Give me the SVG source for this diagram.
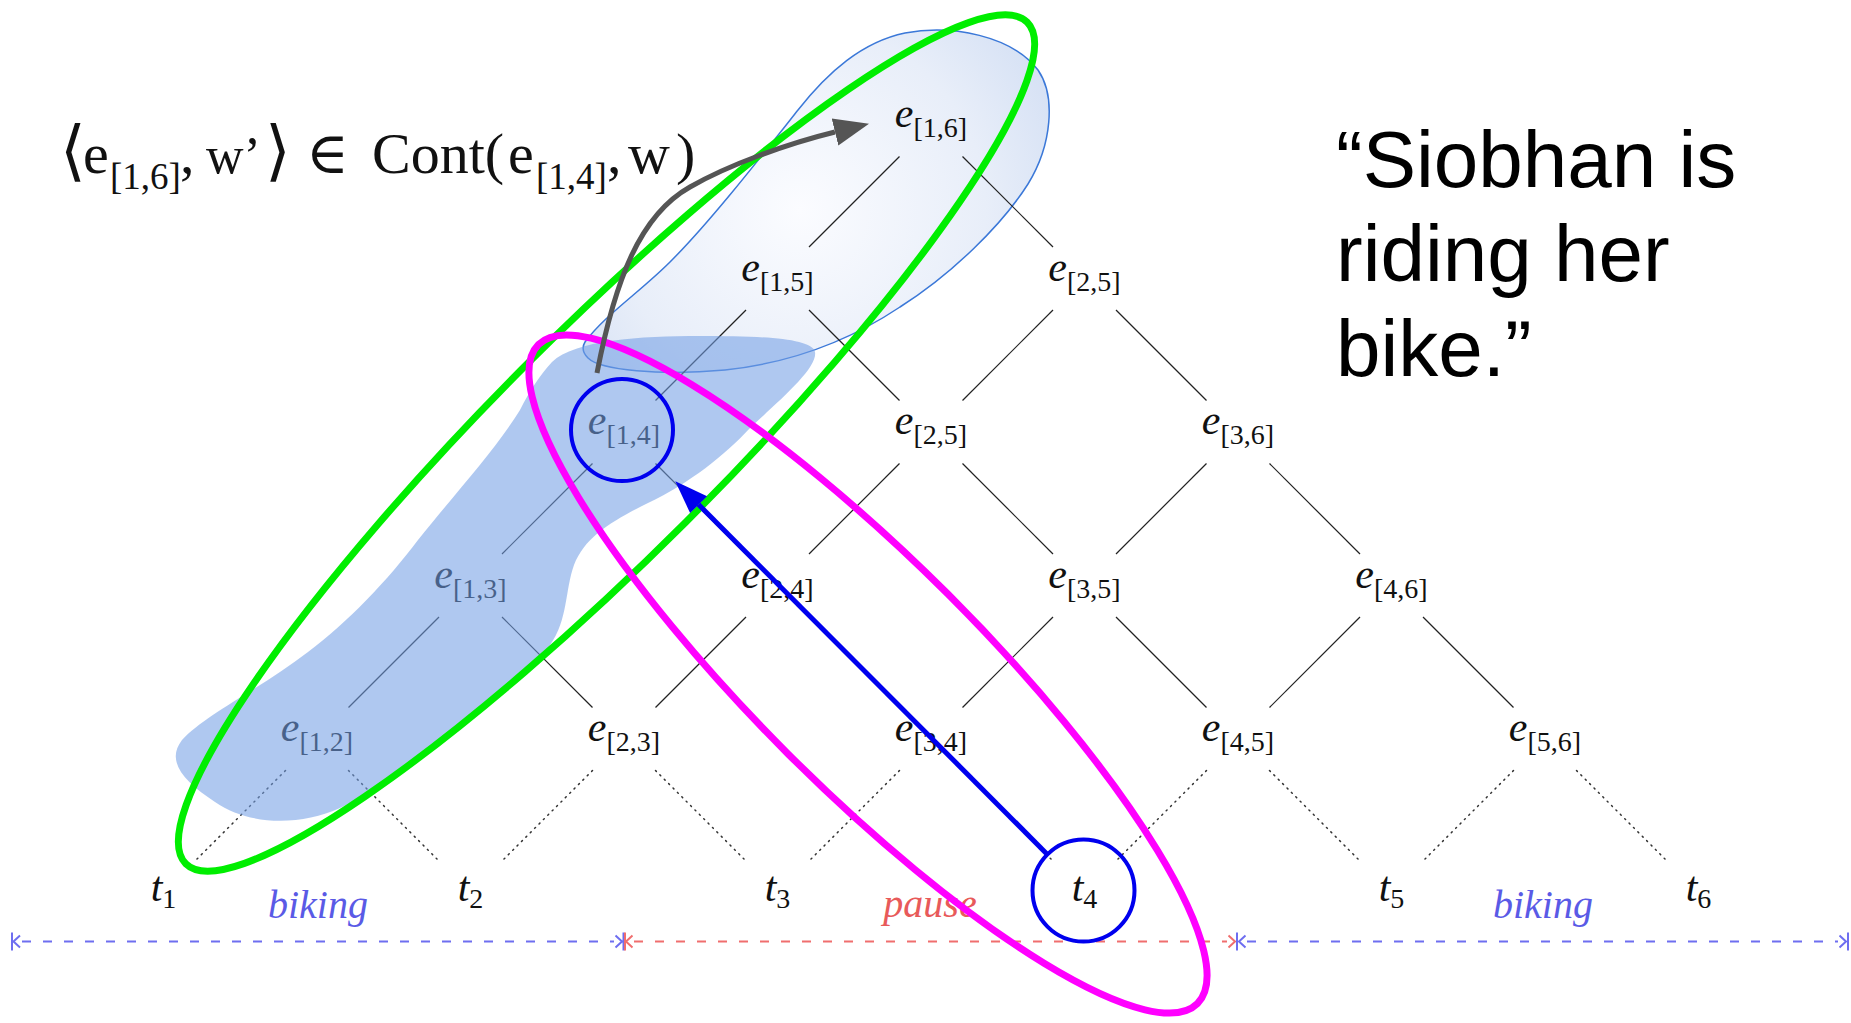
<svg xmlns="http://www.w3.org/2000/svg" width="1851" height="1023" viewBox="0 0 1851 1023">
  <defs>
    <style>
      .lbl { font-family: "Liberation Serif", "DejaVu Serif", serif; fill: #111; text-anchor: middle; }
      .lbl .v { font-style: italic; font-size: 42px; }
      .lbl .s { font-size: 28px; }
      .edge { stroke: #222; stroke-width: 1.2; fill: none; }
      .dot { stroke: #333; stroke-width: 1.5; fill: none; stroke-dasharray: 1.2 5; stroke-linecap: round; }
      .seg { font-family: "Liberation Serif", "DejaVu Serif", serif; font-style: italic; font-size: 40px; text-anchor: middle; }
      .tl { stroke-width: 2; fill: none; stroke-dasharray: 9 12; }
      .tm { stroke-width: 2; fill: none; }
      .blue { stroke: #6e6ef0; }
      .red { stroke: #f06e6e; }
      .formula { font-family: "Liberation Serif", "DejaVu Serif", serif; font-size: 58px; fill: #111; }
      .formula .s { font-size: 37px; }
      .formula .b { font-size: 66px; }
      .formula .w { font-size: 52px; }
      .quote { font-family: "Liberation Sans", Arial, sans-serif; font-size: 80px; fill: #000; }
    </style>
    <radialGradient id="lightGrad" gradientUnits="userSpaceOnUse" cx="800" cy="210" r="310">
      <stop offset="0" stop-color="#fbfcff"/>
      <stop offset="0.6" stop-color="#e8eef9"/>
      <stop offset="1" stop-color="#d0ddf3"/>
    </radialGradient>
    <marker id="arrBlue" markerUnits="userSpaceOnUse" viewBox="0 -13 34 26" refX="0" refY="0" markerWidth="34" markerHeight="26" orient="auto">
      <path d="M0,-12 L33,0 L0,12 Z" fill="#0000ee"/>
    </marker>
    <marker id="arrGray" markerUnits="userSpaceOnUse" viewBox="0 -15 36 30" refX="0" refY="0" markerWidth="36" markerHeight="30" orient="auto">
      <path d="M0,-14 L35,0 L0,14 Z" fill="#555"/>
    </marker>
  </defs>

  <rect width="1851" height="1023" fill="#fff"/>

  <!-- light blue region (continuation) -->
  <path id="lightRegion" d="M 585,342 C 605,315 640,292 670,262 C 710,222 760,158 798,110 C 828,72 862,42 905,33 C 952,24 1012,36 1038,70 C 1056,96 1052,145 1028,184 C 1002,225 952,274 900,307 C 858,335 800,362 725,370 C 660,376 600,370 588,358 C 582,352 582,347 585,342 Z" fill="url(#lightGrad)" stroke="#3b78d8" stroke-width="1.5"/>

  <!-- connectors -->
  <g id="connectors">
    <line class="edge" x1="899.5" y1="156.5" x2="809" y2="247"/>
    <line class="edge" x1="962.5" y1="156.5" x2="1053" y2="247"/>
    <line class="edge" x1="746" y1="310" x2="655.5" y2="400.5"/>
    <line class="edge" x1="809" y1="310" x2="899.5" y2="400.5"/>
    <line class="edge" x1="1053" y1="310" x2="962.5" y2="400.5"/>
    <line class="edge" x1="1116" y1="310" x2="1206.5" y2="400.5"/>
    <line class="edge" x1="592.5" y1="463.5" x2="502" y2="554"/>
    <line class="edge" x1="655.5" y1="463.5" x2="746" y2="554"/>
    <line class="edge" x1="899.5" y1="463.5" x2="809" y2="554"/>
    <line class="edge" x1="962.5" y1="463.5" x2="1053" y2="554"/>
    <line class="edge" x1="1206.5" y1="463.5" x2="1116" y2="554"/>
    <line class="edge" x1="1269.5" y1="463.5" x2="1360" y2="554"/>
    <line class="edge" x1="439" y1="617" x2="348.5" y2="707.5"/>
    <line class="edge" x1="502" y1="617" x2="592.5" y2="707.5"/>
    <line class="edge" x1="746" y1="617" x2="655.5" y2="707.5"/>
    <line class="edge" x1="809" y1="617" x2="899.5" y2="707.5"/>
    <line class="edge" x1="1053" y1="617" x2="962.5" y2="707.5"/>
    <line class="edge" x1="1116" y1="617" x2="1206.5" y2="707.5"/>
    <line class="edge" x1="1360" y1="617" x2="1269.5" y2="707.5"/>
    <line class="edge" x1="1423" y1="617" x2="1513.5" y2="707.5"/>
    <line class="dot" x1="285.5" y1="770.5" x2="195" y2="861"/>
    <line class="dot" x1="348.5" y1="770.5" x2="439" y2="861"/>
    <line class="dot" x1="592.5" y1="770.5" x2="502" y2="861"/>
    <line class="dot" x1="655.5" y1="770.5" x2="746" y2="861"/>
    <line class="dot" x1="899.5" y1="770.5" x2="809" y2="861"/>
    <line class="dot" x1="962.5" y1="770.5" x2="1053" y2="861"/>
    <line class="dot" x1="1206.5" y1="770.5" x2="1116" y2="861"/>
    <line class="dot" x1="1269.5" y1="770.5" x2="1360" y2="861"/>
    <line class="dot" x1="1513.5" y1="770.5" x2="1423" y2="861"/>
    <line class="dot" x1="1576.5" y1="770.5" x2="1667" y2="861"/>
  </g>

  <!-- nodes -->
  <g id="n-e16"><text class="lbl" x="931" y="127"><tspan class="v">e</tspan><tspan class="s" dy="10">[1,6]</tspan></text></g>
  <g id="n-e15"><text class="lbl" x="777.5" y="280.5"><tspan class="v">e</tspan><tspan class="s" dy="10">[1,5]</tspan></text></g>
  <g id="n-e25a"><text class="lbl" x="1084.5" y="280.5"><tspan class="v">e</tspan><tspan class="s" dy="10">[2,5]</tspan></text></g>
  <g id="n-e14"><text class="lbl" x="624" y="434"><tspan class="v">e</tspan><tspan class="s" dy="10">[1,4]</tspan></text></g>
  <g id="n-e25b"><text class="lbl" x="931" y="434"><tspan class="v">e</tspan><tspan class="s" dy="10">[2,5]</tspan></text></g>
  <g id="n-e36"><text class="lbl" x="1238" y="434"><tspan class="v">e</tspan><tspan class="s" dy="10">[3,6]</tspan></text></g>
  <g id="n-e13"><text class="lbl" x="470.5" y="587.5"><tspan class="v">e</tspan><tspan class="s" dy="10">[1,3]</tspan></text></g>
  <g id="n-e24"><text class="lbl" x="777.5" y="587.5"><tspan class="v">e</tspan><tspan class="s" dy="10">[2,4]</tspan></text></g>
  <g id="n-e35"><text class="lbl" x="1084.5" y="587.5"><tspan class="v">e</tspan><tspan class="s" dy="10">[3,5]</tspan></text></g>
  <g id="n-e46"><text class="lbl" x="1391.5" y="587.5"><tspan class="v">e</tspan><tspan class="s" dy="10">[4,6]</tspan></text></g>
  <g id="n-e12"><text class="lbl" x="317" y="741"><tspan class="v">e</tspan><tspan class="s" dy="10">[1,2]</tspan></text></g>
  <g id="n-e23"><text class="lbl" x="624" y="741"><tspan class="v">e</tspan><tspan class="s" dy="10">[2,3]</tspan></text></g>
  <g id="n-e34"><text class="lbl" x="931" y="741"><tspan class="v">e</tspan><tspan class="s" dy="10">[3,4]</tspan></text></g>
  <g id="n-e45"><text class="lbl" x="1238" y="741"><tspan class="v">e</tspan><tspan class="s" dy="10">[4,5]</tspan></text></g>
  <g id="n-e56"><text class="lbl" x="1545" y="741"><tspan class="v">e</tspan><tspan class="s" dy="10">[5,6]</tspan></text></g>
  <g id="n-t1"><text class="lbl" x="163.5" y="901"><tspan class="v">t</tspan><tspan class="s" dy="7">1</tspan></text></g>
  <g id="n-t2"><text class="lbl" x="470.5" y="901"><tspan class="v">t</tspan><tspan class="s" dy="7">2</tspan></text></g>
  <g id="n-t3"><text class="lbl" x="777.5" y="901"><tspan class="v">t</tspan><tspan class="s" dy="7">3</tspan></text></g>
  <g id="n-t4"><text class="lbl" x="1084.5" y="901"><tspan class="v">t</tspan><tspan class="s" dy="7">4</tspan></text></g>
  <g id="n-t5"><text class="lbl" x="1391.5" y="901"><tspan class="v">t</tspan><tspan class="s" dy="7">5</tspan></text></g>
  <g id="n-t6"><text class="lbl" x="1698.5" y="901"><tspan class="v">t</tspan><tspan class="s" dy="7">6</tspan></text></g>

  <!-- dark blue region (event so far) -->
  <path id="darkRegion" d="M 552,362 C 575,340 640,336 700,336 C 760,336 812,338 815,352 C 818,368 780,400 750,428 C 725,455 690,483 648,503 C 610,522 585,537 574,565 C 565,590 568,620 550,645 C 530,672 490,705 456,730 C 420,757 380,790 340,808 C 300,826 250,826 215,802 C 185,782 165,762 182,740 C 205,715 258,690 308,652 C 348,622 388,580 418,540 C 458,490 495,450 520,410 C 530,390 540,375 552,362 Z" fill="#729ee4" fill-opacity="0.57"/>

  <!-- timeline -->
  <g id="timeline">
    <line class="tl blue" x1="22" y1="941.5" x2="614" y2="941.5"/>
    <path class="tm blue" d="M12,932.5 V950.5 M20,935.5 L13.5,941.5 L20,947.5 M615.5,935.5 L622,941.5 L615.5,947.5 M623.5,932.5 V950.5"/>
    <line class="tl red" x1="634" y1="941.5" x2="1227" y2="941.5"/>
    <path class="tm red" d="M625,932.5 V950.5 M632.5,935.5 L626,941.5 L632.5,947.5 M1228.5,935.5 L1235,941.5 L1228.5,947.5"/>
    <path class="tm blue" d="M1237,932.5 V950.5 M1245.5,935.5 L1239,941.5 L1245.5,947.5 M1839.5,935.5 L1846,941.5 L1839.5,947.5 M1848,932.5 V950.5"/>
    <line class="tl blue" x1="1247" y1="941.5" x2="1838" y2="941.5"/>
    <text class="seg" x="318" y="918" fill="#5a5ae6">biking</text>
    <text class="seg" x="930" y="917" fill="#e85a5a">pause</text>
    <text class="seg" x="1543" y="918" fill="#5a5ae6">biking</text>
  </g>

  <!-- annotations -->
  <g id="greenEllipse">
    <ellipse cx="0" cy="0" rx="595" ry="112" transform="translate(606.5,443) rotate(-45)" fill="none" stroke="#00ee00" stroke-width="7"/>
  </g>
  <g id="magentaEllipse">
    <ellipse cx="0" cy="0" rx="466" ry="113" transform="translate(868,674) rotate(45)" fill="none" stroke="#ff00ff" stroke-width="7"/>
  </g>
  <g id="circle-e14"><circle cx="622" cy="430" r="51" fill="none" stroke="#0000ee" stroke-width="4"/></g>
  <g id="circle-t4"><circle cx="1083.5" cy="890.5" r="51" fill="none" stroke="#0000ee" stroke-width="4"/></g>

  <g id="arrows">
    <line x1="1047.4" y1="854.4" x2="698.6" y2="504.6" stroke="#0000ee" stroke-width="5" marker-end="url(#arrBlue)"/>
    <path d="M 597,373 C 615,280 640,215 690,187 C 730,164 790,143 835,132" fill="none" stroke="#555" stroke-width="5" marker-end="url(#arrGray)"/>
  </g>

  <!-- formula -->
  <text class="formula" y="173"><tspan class="b" x="60">⟨</tspan><tspan x="83">e</tspan><tspan class="s" x="110" dy="16">[1,6]</tspan><tspan x="180" dy="-16">,</tspan><tspan class="w" x="206">w’</tspan><tspan class="b" x="265">⟩</tspan><tspan x="306">∈</tspan><tspan x="372">Cont(</tspan><tspan x="508">e</tspan><tspan class="s" x="536" dy="16">[1,4]</tspan><tspan x="607" dy="-16">,</tspan><tspan x="628">w</tspan><tspan x="676">)</tspan></text>

  <!-- quote -->
  <text class="quote" x="1336" y="186.5">“Siobhan is</text>
  <text class="quote" x="1336" y="281">riding her</text>
  <text class="quote" x="1336" y="375.5">bike.”</text>
</svg>
